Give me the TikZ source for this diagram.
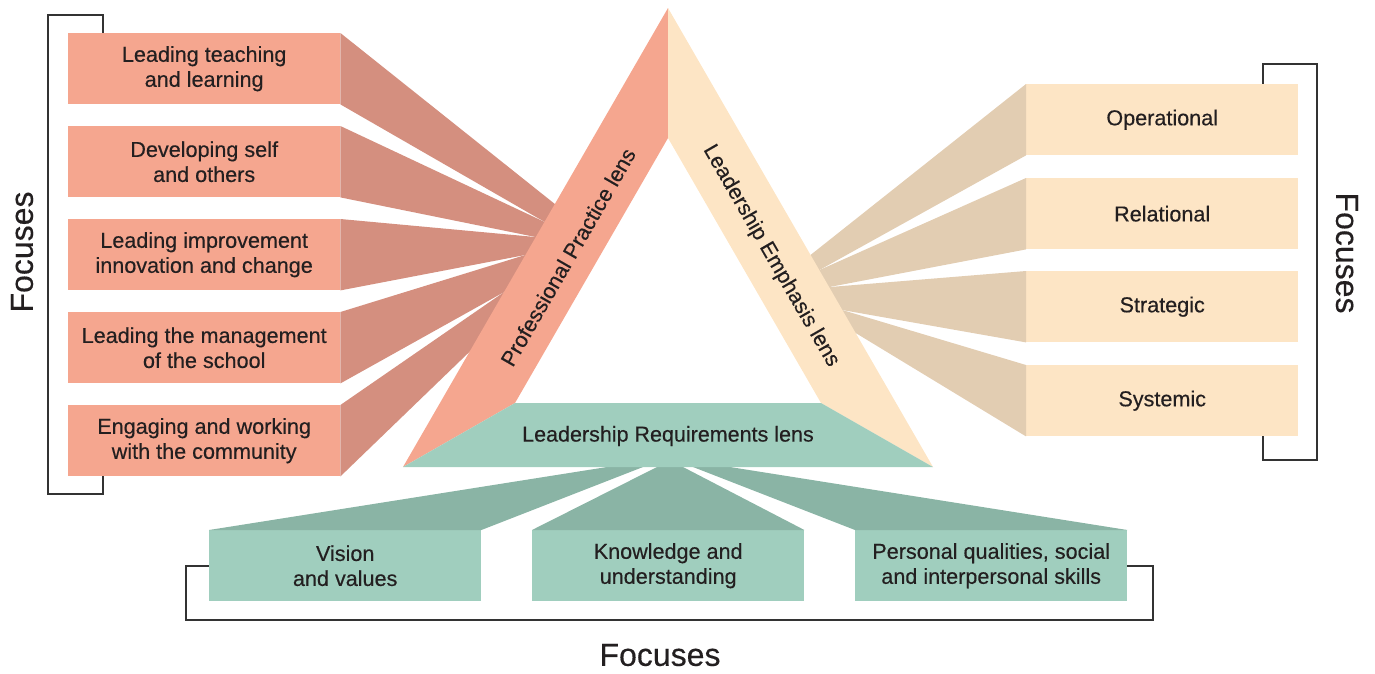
\documentclass[tikz,border=0pt]{standalone}
\usepackage{fontspec}
\setmainfont{Liberation Sans}[FakeBold=0.35]
\usetikzlibrary{calc}

\definecolor{salmon}{RGB}{245,166,143}
\definecolor{salmondk}{RGB}{212,143,127}
\definecolor{cream}{RGB}{253,229,197}
\definecolor{creamdk}{RGB}{226,205,178}
\definecolor{mint}{RGB}{160,206,190}
\definecolor{mintdk}{RGB}{138,180,165}
\definecolor{ink}{RGB}{35,31,32}
\definecolor{rulegray}{RGB}{51,51,51}

\tikzset{
  focusbox/.style={minimum width=272pt, minimum height=71pt, inner sep=0pt,
    align=center, font=\fontsize{21.6}{25}\selectfont, text=ink, anchor=north west},
  ppbox/.style={focusbox, fill=salmon},
  lebox/.style={focusbox, fill=cream},
  lrbox/.style={focusbox, fill=mint},
  bracket/.style={draw=rulegray, line width=2pt},
  lenslabel/.style={font=\fontsize{21.5}{25}\selectfont, text=ink, inner sep=0pt},
  focuslabel/.style={font=\fontsize{32}{36}\selectfont, text=ink, inner sep=0pt},
}

\begin{document}
\begin{tikzpicture}[x=1pt,y=-1pt]
\useasboundingbox (0,0) rectangle (1375,673);

% triangle corners
\coordinate (A)  at (668,8);
\coordinate (I)  at (668,138);
\coordinate (BL) at (403,467);
\coordinate (BR) at (933,467);
\coordinate (IL) at (515,403);
\coordinate (IR) at (821,403);

% brackets
\draw[bracket] (103,45) -- (103,15) -- (48,15) -- (48,494) -- (103,494) -- (103,465);
\draw[bracket] (1263,95) -- (1263,64) -- (1317,64) -- (1317,460) -- (1263,460) -- (1263,425);
\draw[bracket] (220,566) -- (186,566) -- (186,620) -- (1153,620) -- (1153,566) -- (1115,566);

% focus boxes: professional practice
\node[ppbox] (p1) at (68,33)  {Leading teaching\\and learning};
\node[ppbox] (p2) at (68,126) {Developing self\\and others};
\node[ppbox] (p3) at (68,219) {Leading improvement\\innovation and change};
\node[ppbox] (p4) at (68,312) {Leading the management\\of the school};
\node[ppbox] (p5) at (68,405) {Engaging and working\\with the community};

% focus boxes: leadership emphasis
\node[lebox] (e1) at (1026,84)  {Operational};
\node[lebox] (e2) at (1026,178) {Relational};
\node[lebox] (e3) at (1026,271) {Strategic};
\node[lebox] (e4) at (1026,365) {Systemic};

% focus boxes: leadership requirements
\node[lrbox] (r1) at (209,530) {Vision\\and values};
\node[lrbox] (r2) at (532,530) {Knowledge and\\understanding};
\node[lrbox] (r3) at (855,530) {Personal qualities, social\\and interpersonal skills};

% meeting points on the outer edges of the lenses
\coordinate (lt0) at ($(A)!0.427!(BL)$);
\coordinate (lt1) at ($(A)!0.466!(BL)$);
\coordinate (lt2) at ($(A)!0.499!(BL)$);
\coordinate (lt3) at ($(A)!0.538!(BL)$);
\coordinate (lt4) at ($(A)!0.619!(BL)$);
\coordinate (lt5) at ($(A)!0.749!(BL)$);

\coordinate (rt0) at ($(A)!0.538!(BR)$);
\coordinate (rt1) at ($(A)!0.571!(BR)$);
\coordinate (rt2) at ($(A)!0.608!(BR)$);
\coordinate (rt3) at ($(A)!0.658!(BR)$);
\coordinate (rt4) at ($(A)!0.708!(BR)$);

\coordinate (bt0) at (607,467);
\coordinate (bt1) at (643,467);
\coordinate (bt2) at (657,467);
\coordinate (bt3) at (683,467);
\coordinate (bt4) at (693,467);
\coordinate (bt5) at (730,467);

% fan shadows towards the lenses
\fill[salmondk] (p1.north east) -- (p1.south east) -- ($(p1.south east)!1.05!(lt1)$) -- ($(p1.north east)!1.05!(lt0)$) -- cycle;
\fill[salmondk] (p2.north east) -- (p2.south east) -- ($(p2.south east)!1.05!(lt2)$) -- ($(p2.north east)!1.05!(lt1)$) -- cycle;
\fill[salmondk] (p3.north east) -- (p3.south east) -- ($(p3.south east)!1.05!(lt3)$) -- ($(p3.north east)!1.05!(lt2)$) -- cycle;
\fill[salmondk] (p4.north east) -- (p4.south east) -- ($(p4.south east)!1.05!(lt4)$) -- ($(p4.north east)!1.05!(lt3)$) -- cycle;
\fill[salmondk] (p5.north east) -- (p5.south east) -- ($(p5.south east)!1.05!(lt5)$) -- ($(p5.north east)!1.05!(lt4)$) -- cycle;

\fill[creamdk] (e1.north west) -- (e1.south west) -- ($(e1.south west)!1.05!(rt1)$) -- ($(e1.north west)!1.05!(rt0)$) -- cycle;
\fill[creamdk] (e2.north west) -- (e2.south west) -- ($(e2.south west)!1.05!(rt2)$) -- ($(e2.north west)!1.05!(rt1)$) -- cycle;
\fill[creamdk] (e3.north west) -- (e3.south west) -- ($(e3.south west)!1.05!(rt3)$) -- ($(e3.north west)!1.05!(rt2)$) -- cycle;
\fill[creamdk] (e4.north west) -- (e4.south west) -- ($(e4.south west)!1.05!(rt4)$) -- ($(e4.north west)!1.05!(rt3)$) -- cycle;

\fill[mintdk] (r1.north west) -- (r1.north east) -- ($(r1.north east)!1.1!(bt1)$) -- ($(r1.north west)!1.1!(bt0)$) -- cycle;
\fill[mintdk] (r2.north west) -- (r2.north east) -- ($(r2.north east)!1.1!(bt3)$) -- ($(r2.north west)!1.1!(bt2)$) -- cycle;
\fill[mintdk] (r3.north west) -- (r3.north east) -- ($(r3.north east)!1.1!(bt5)$) -- ($(r3.north west)!1.1!(bt4)$) -- cycle;

% the three lenses
\fill[salmon] (A) -- (BL) -- (IL) -- (I) -- cycle;
\fill[cream]  (A) -- (I) -- (IR) -- (BR) -- cycle;
\fill[mint]   (IL) -- (IR) -- (BR) -- (BL) -- cycle;

\node[lenslabel, rotate=60]  (pp) at (568,257) {Professional Practice lens};
\node[lenslabel, rotate=-60] (le) at (771,256) {Leadership Emphasis lens};
\node[lenslabel]             (lr) at (668,436) {Leadership Requirements lens};

% bracket captions
\node[focuslabel, rotate=90]  (fl) at (22,252)   {Focuses};
\node[focuslabel, rotate=-90] (fr) at (1347,253) {Focuses};
\node[focuslabel]             (fb) at (660,655)  {Focuses};
\end{tikzpicture}
\end{document}
